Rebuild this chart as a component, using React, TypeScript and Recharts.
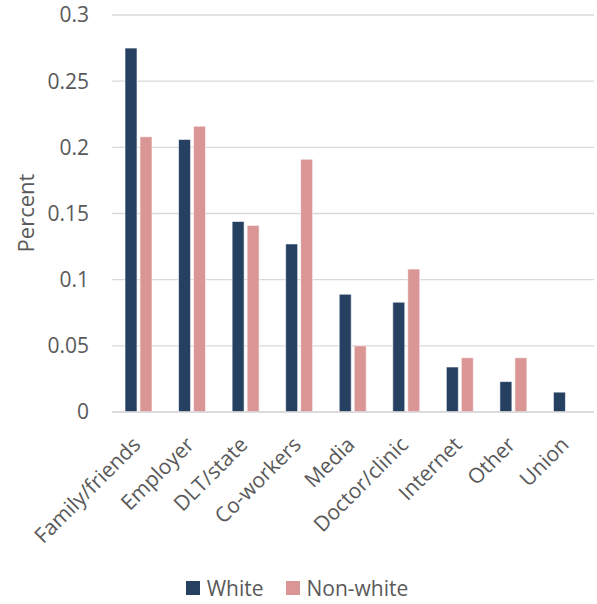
import React from 'react';
import { BarChart, Bar, XAxis, YAxis, CartesianGrid, Legend } from 'recharts';

const categories = [
  'Family/friends',
  'Employer',
  'DLT/state',
  'Co-workers',
  'Media',
  'Doctor/clinic',
  'Internet',
  'Other',
  'Union',
];
const whiteValues = [0.275, 0.206, 0.144, 0.127, 0.089, 0.083, 0.034, 0.023, 0.015];
const nonWhiteValues = [0.208, 0.216, 0.141, 0.191, 0.05, 0.108, 0.041, 0.041, 0];
const yTicks = [0, 0.05, 0.1, 0.15, 0.2, 0.25, 0.3];

const WHITE_COLOR = '#254061';
const NONWHITE_COLOR = '#DA9694';
const TEXT_COLOR = '#595959';
const FONT = '"Open Sans", sans-serif';
const FONT_SIZE = 21;

const data = categories.map((name, i) => ({
  name,
  white: whiteValues[i],
  nonWhite: nonWhiteValues[i],
}));

const XTick = (props: any) => {
  const { x, y, payload } = props;
  return (
    <g transform={`translate(${x + 3},${y + 34})`}>
      <text
        textAnchor="end"
        transform="rotate(-45)"
        fill={TEXT_COLOR}
        fontSize={FONT_SIZE}
        fontFamily={FONT}
      >
        {payload.value}
      </text>
    </g>
  );
};

const LegendContent = () => {
  const items = [
    { label: 'White', color: WHITE_COLOR },
    { label: 'Non-white', color: NONWHITE_COLOR },
  ];
  return (
    <div
      style={{
        display: 'flex',
        justifyContent: 'center',
        alignItems: 'center',
        height: 32,
        fontFamily: FONT,
        fontSize: FONT_SIZE,
        color: TEXT_COLOR,
      }}
    >
      {items.map((item, i) => (
        <div
          key={item.label}
          style={{ display: 'flex', alignItems: 'center', marginLeft: i === 0 ? 0 : 22 }}
        >
          <span
            style={{ width: 14, height: 14, background: item.color, display: 'inline-block', marginRight: 7 }}
          />
          <span>{item.label}</span>
        </div>
      ))}
    </div>
  );
};

const YLabel = () => (
  <text
    x={25}
    y={213}
    transform="rotate(-90 25 213)"
    textAnchor="middle"
    dominantBaseline="central"
    fill={TEXT_COLOR}
    fontSize={FONT_SIZE + 1}
    fontFamily={FONT}
  >
    Percent
  </text>
);

export default function App() {
  return (
    <div style={{ position: 'absolute', left: 0, top: 0, background: '#fff' }}>
      <BarChart
        width={597}
        height={604}
        data={data}
        margin={{ top: 15, right: 3, left: 0, bottom: 0 }}
        barSize={12}
        barGap={3}
      >
        <CartesianGrid vertical={false} stroke="#d9d9d9" strokeWidth={1.3} />
        <XAxis
          dataKey="name"
          interval={0}
          height={160}
          tick={<XTick />}
          tickLine={false}
          tickSize={0}
          tickMargin={0}
          axisLine={{ stroke: '#d9d9d9', strokeWidth: 1.3 }}
        />
        <YAxis
          width={112}
          domain={[0, 0.3]}
          ticks={yTicks}
          interval={0}
          axisLine={false}
          tickLine={false}
          tickSize={0}
          tickMargin={23}
          tickFormatter={(v: number) => String(v)}
          tick={{ fill: TEXT_COLOR, fontSize: FONT_SIZE, fontFamily: FONT }}
          label={<YLabel />}
        />
        <Legend verticalAlign="bottom" height={32} content={<LegendContent />} />
        <Bar
          dataKey="white"
          name="White"
          fill={WHITE_COLOR}
          stroke="#ffffff"
          strokeWidth={0.6}
          isAnimationActive={false}
        />
        <Bar
          dataKey="nonWhite"
          name="Non-white"
          fill={NONWHITE_COLOR}
          stroke="#ffffff"
          strokeWidth={0.6}
          isAnimationActive={false}
        />
      </BarChart>
    </div>
  );
}
